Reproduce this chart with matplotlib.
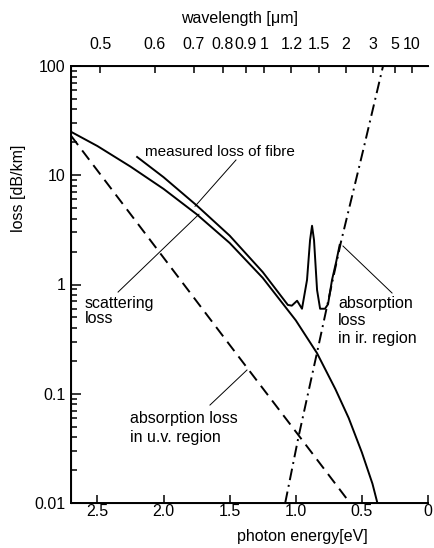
"""Loss spectrum of a silica fibre: measured loss, scattering, u.v. and i.r. absorption."""

import matplotlib

matplotlib.use("Agg")
import matplotlib.pyplot as plt

plt.rcParams["font.family"] = ["Liberation Sans", "DejaVu Sans"]

# photon energy [eV] / loss [dB/km]
scatter_ev = [2.7, 2.5, 2.25, 2.0, 1.75, 1.5, 1.25, 1.0, 0.84, 0.7, 0.6, 0.5, 0.42, 0.378]
scatter_loss = [25, 18.5, 12, 7.5, 4.4, 2.4, 1.15, 0.47, 0.236, 0.11, 0.06, 0.029, 0.015, 0.0095]

measured_ev = [2.2, 2.0, 1.75, 1.5, 1.25, 1.06, 1.03, 0.99, 0.953, 0.915, 0.892, 0.877,
               0.862, 0.839, 0.816, 0.779, 0.756, 0.726, 0.695, 0.668]
measured_loss = [14.7, 9.6, 5.3, 2.8, 1.3, 0.65, 0.64, 0.71, 0.60, 1.1, 2.55, 3.45,
                 2.55, 0.89, 0.60, 0.60, 0.66, 1.1, 1.6, 2.3]

uv_ev = [2.7, 2.0, 1.5, 1.0, 0.59]
uv_loss = [23, 1.76, 0.28, 0.045, 0.01]

ir_ev = [1.08, 0.98, 0.84, 0.66, 0.49, 0.34]
ir_loss = [0.01, 0.04, 0.236, 2.4, 17, 100]

energy_ticks = [2.5, 2.0, 1.5, 1.0, 0.5, 0]
energy_labels = ["2.5", "2.0", "1.5", "1.0", "0.5", "0"]
wavelength_ticks = [0.5, 0.6, 0.7, 0.8, 0.9, 1, 1.2, 1.5, 2, 3, 5, 10]
wavelength_labels = ["0.5", "0.6", "0.7", "0.8", "0.9", "1", "1.2", "1.5", "2", "3", "5", "10"]
loss_ticks = [0.01, 0.1, 1, 10, 100]
loss_labels = ["0.01", "0.1", "1", "10", "100"]

fig = plt.figure(figsize=(4.34, 5.48), dpi=100)
ax = fig.add_axes([71 / 434, 45 / 548, 357 / 434, 437 / 548])

lw = 1.4
ax.plot(scatter_ev, scatter_loss, color="black", lw=lw)
ax.plot(measured_ev, measured_loss, color="black", lw=lw)
ax.plot(uv_ev, uv_loss, color="black", lw=lw, dashes=(6, 3.5))
ax.plot(ir_ev, ir_loss, color="black", lw=lw, dashes=(6, 2.5, 1, 2.5))

ax.set_yscale("log")
ax.set_xlim(2.7, 0)
ax.set_ylim(0.01, 100)
ax.set_xticks(energy_ticks)
ax.set_xticklabels(energy_labels, fontsize=11.5)
ax.set_yticks(loss_ticks)
ax.set_yticklabels(loss_labels, fontsize=11.5)
ax.tick_params(axis="both", which="both", direction="in", width=1.1)
ax.tick_params(axis="x", length=6, pad=1)
ax.tick_params(axis="y", which="major", length=7, pad=4)
ax.tick_params(axis="y", which="minor", length=4)
ax.spines["right"].set_visible(False)
for side in ("left", "bottom", "top"):
    ax.spines[side].set_linewidth(1.4)

ax2 = ax.twiny()
ax2.set_xlim(ax.get_xlim())
ax2.set_xticks([1.24 / w for w in wavelength_ticks])
ax2.set_xticklabels(wavelength_labels, fontsize=11.5)
ax2.tick_params(axis="x", direction="in", length=5, width=1.1, pad=10)
ax2.spines["right"].set_visible(False)

fig.text(240 / 434, 1 - 18 / 548, "wavelength [μm]", ha="center", va="center", fontsize=11.5)
fig.text(302 / 434, 1 - 536 / 548, "photon energy[eV]", ha="center", va="center", fontsize=11.5)
fig.text(19 / 434, 1 - 188 / 548, "loss [dB/km]", ha="center", va="center", fontsize=11.5,
         rotation=90)

# labels and their leader lines, in (energy, loss)
leader = dict(color="black", lw=0.7)
ax.text(2.14, 16.3, "measured loss of fibre", fontsize=11, ha="left", va="center")
ax.plot([1.452, 1.762], [13.8, 5.2], **leader)

ax.text(2.594, 0.785, "scattering\nloss", fontsize=11.5, ha="left", va="top", linespacing=1.0)
ax.plot([2.344, 1.732], [0.853, 4.4], **leader)

ax.text(2.254, 0.0695, "absorption loss\nin u.v. region", fontsize=11.5, ha="left", va="top",
        linespacing=1.3)
ax.plot([1.649, 1.369], [0.0788, 0.165], **leader)

ax.text(0.68, 0.785, "absorption\nloss\nin ir. region", fontsize=11.5, ha="left", va="top",
        linespacing=1.2)
ax.plot([0.643, 0.272], [2.25, 0.836], **leader)

fig.savefig("out.png", dpi=100)
plt.close(fig)
